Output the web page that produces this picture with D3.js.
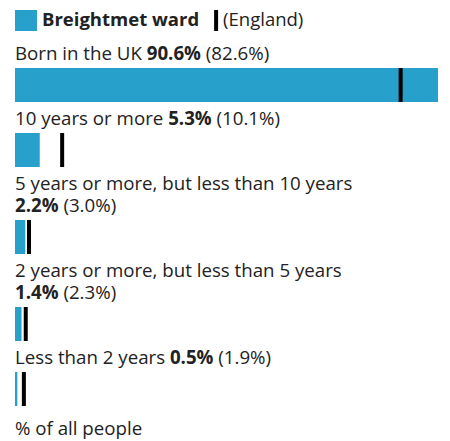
<!DOCTYPE html>
<html>
<head>
<meta charset="utf-8">
<script src="https://cdn.jsdelivr.net/npm/d3@7"></script>
<style>
  body { margin: 0; background: #fff; }
  text { font-family: "Open Sans", sans-serif; font-size: 18.7px; fill: #222; }
  .legend text { font-size: 18.5px; }
</style>
</head>
<body>
<div class="chart"></div>
<script>
const categories = ["Born in the UK", "10 years or more", "5 years or more, but less than 10 years",
  "2 years or more, but less than 5 years", "Less than 2 years"]
const wardValues = [90.6, 5.3, 2.2, 1.4, 0.5]
const englandValues = [82.6, 10.1, 3.0, 2.3, 1.9]
const legendLabels = ["Breightmet ward", "(England)"]
const footer = "% of all people"

const width = 450, height = 441
const margin = ({left: 15, right: 12})
const blue = "#27a0cc"

const svg = d3.select('.chart').append('svg')
    .attr("width", width)
    .attr("height", height)

const xScale = d3.scaleLinear()
    .domain([0, d3.max(wardValues)])
    .range([margin.left, width - margin.right])

// legend
const legend = svg.append("g").attr("class", "legend")
legend.append("rect").attr("x", 15).attr("y", 10).attr("width", 22).attr("height", 21).attr("fill", blue)
const lt = legend.append("text").attr("x", 42).attr("y", 26).style("font-weight", "bold").text(legendLabels[0])
const lw = lt.node().getComputedTextLength()
legend.append("rect").attr("x", 42 + lw + 15).attr("y", 10).attr("width", 4).attr("height", 21).attr("fill", "#000")
legend.append("text").attr("x", 42 + lw + 24).attr("y", 26).text(legendLabels[1])

const avail = width - margin.right - margin.left
let y = 60
const barH = 34

categories.forEach((c, i) => {
    const g = svg.append("g")
    const t = g.append("text").attr("x", margin.left).attr("y", y)
    t.append("tspan").text(c + " ")
    t.append("tspan").style("font-weight", "bold").text(d3.format(".1f")(wardValues[i]) + "%")
    t.append("tspan").text(" (" + d3.format(".1f")(englandValues[i]) + "%)")
    if (t.node().getComputedTextLength() > avail) {
        // put the values on a second line
        t.selectAll("tspan").remove()
        t.append("tspan").text(c)
        y += 22
        const t2 = g.append("text").attr("x", margin.left).attr("y", y)
        t2.append("tspan").style("font-weight", "bold").text(d3.format(".1f")(wardValues[i]) + "%")
        t2.append("tspan").text(" (" + d3.format(".1f")(englandValues[i]) + "%)")
    }
    const top = y + 8
    g.append("rect")
        .attr("x", xScale(0))
        .attr("y", top)
        .attr("width", xScale(wardValues[i]) - xScale(0))
        .attr("height", barH)
        .attr("fill", blue)
    g.append("rect")
        .attr("x", xScale(englandValues[i]) - 2)
        .attr("y", top)
        .attr("width", 4)
        .attr("height", barH)
        .attr("fill", "#000")
    y = top + barH + 23
})

svg.append("text").attr("x", margin.left).attr("y", 435).text(footer)
</script>
</body>
</html>
